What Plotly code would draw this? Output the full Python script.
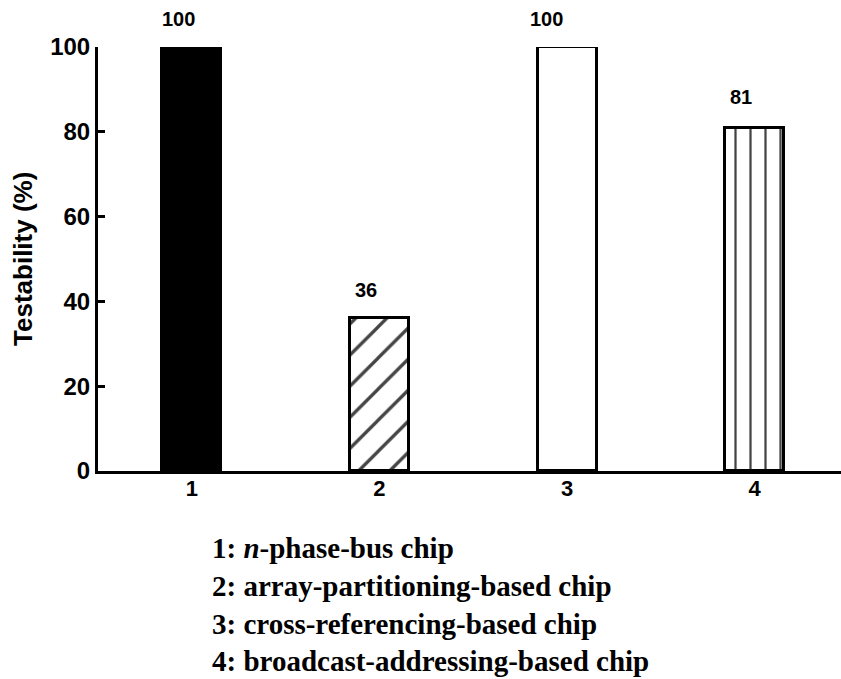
import plotly.graph_objects as go

# Chip designs compared by testability
categories = [1, 2, 3, 4]
testability = [100, 36, 100, 81]
tick_labels = ["1", "2", "3", "4"]
chip_names = [
    "<i>n</i>-phase-bus chip",
    "array-partitioning-based chip",
    "cross-referencing-based chip",
    "broadcast-addressing-based chip",
]

# bar styling: solid black, diagonal hatch, empty, vertical stripes
fill_colors = ["black", "white", "white", "white"]
hatch_shapes = ["", "/", "", "|"]
hatch_sizes = [10, 22, 10, 15]
hatch_solidity = [0.1, 0.15, 0.1, 0.15]
label_xshift = [-13, -13, -21, -14]
label_yshift = [28, 28, 28, 31]

SANS = "Arial, Liberation Sans, sans-serif"
SERIF = "Times New Roman, Liberation Serif, serif"

fig = go.Figure()
fig.add_trace(go.Bar(
    x=categories,
    y=testability,
    width=0.315,
    cliponaxis=False,
    marker=dict(
        color=fill_colors,
        line=dict(color="black", width=3),
        pattern=dict(
            shape=hatch_shapes,
            fgcolor="black",
            fgopacity=1,
            size=hatch_sizes,
            solidity=hatch_solidity,
        ),
    ),
    showlegend=False,
))

# value labels above the bars
for xv, yv, dx, dy in zip(categories, testability, label_xshift, label_yshift):
    fig.add_annotation(
        x=xv, y=yv, text=f"<b>{yv}</b>", showarrow=False,
        xshift=dx, yshift=dy,
        font=dict(family=SANS, size=20, color="black"),
    )

# y-axis title placed as rotated text
fig.add_annotation(
    xref="paper", yref="paper", x=-0.101, y=0.5,
    xanchor="center", yanchor="middle", showarrow=False,
    textangle=-90, text="<b>Testability (%)</b>",
    font=dict(family=SANS, size=26, color="black"),
)

# key describing each numbered chip
key_y = [-0.181, -0.271, -0.36, -0.447]
for idx, (name, ky) in enumerate(zip(chip_names, key_y), start=1):
    fig.add_annotation(
        xref="paper", yref="paper", x=0.1507, y=ky,
        xanchor="left", yanchor="middle", showarrow=False,
        text=f"<b>{idx}: {name}</b>",
        font=dict(family=SERIF, size=29, color="black"),
    )

fig.update_layout(
    width=841, height=679,
    margin=dict(l=98, r=0, t=47, b=208),
    plot_bgcolor="white", paper_bgcolor="white",
    font=dict(family=SANS, color="black"),
    bargap=0,
)
fig.update_xaxes(
    range=[0.5, 4.46],
    tickvals=categories,
    ticktext=[f"<b>{t}</b>" for t in tick_labels],
    tickfont=dict(family=SANS, size=22, color="black"),
    showline=True, linecolor="black", linewidth=3,
    showgrid=False, zeroline=False, ticks="",
    ticklabelstandoff=-4,
)
fig.update_yaxes(
    range=[0, 100],
    tickvals=[0, 20, 40, 60, 80, 100],
    ticktext=[f"<b>{v}</b>" for v in [0, 20, 40, 60, 80, 100]],
    tickfont=dict(family=SANS, size=24, color="black"),
    showline=True, linecolor="black", linewidth=3,
    ticks="inside", ticklen=7, tickwidth=3, tickcolor="black",
    showgrid=False, zeroline=False,
)

fig.write_html("out.html")
